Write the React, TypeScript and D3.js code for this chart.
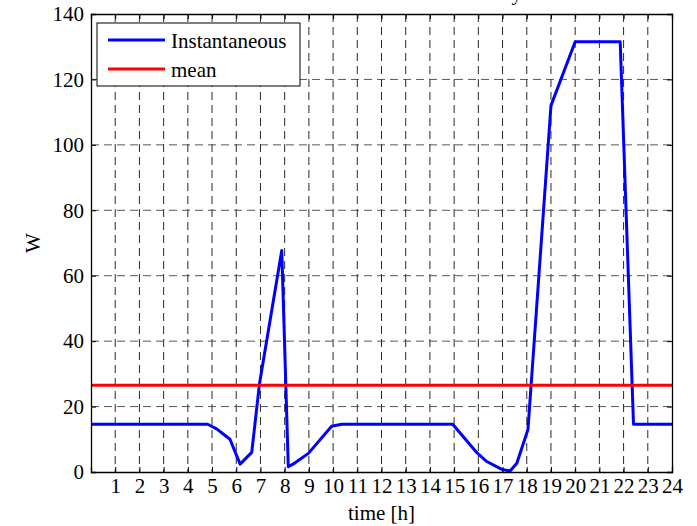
import React, { useRef, useEffect } from 'react';
import * as d3 from 'd3';

// instantaneous power readings (hour, W)
const hours = [0, 4.82, 5.19, 5.74, 6.16, 6.64, 6.96, 7.88, 8.15, 8.43, 8.98, 9.94, 10.36,
  14.94, 15.94, 16.35, 16.97, 17.31, 17.59, 18.05, 19.0, 20.0, 21.86, 22.41, 24];
const watts = [14.6, 14.6, 13.2, 10, 2.4, 6.0, 27, 67.7, 1.6, 2.8, 5.7, 14.0, 14.6,
  14.6, 5.9, 3.2, 0.8, 0.3, 2.7, 13, 112, 131.5, 131.5, 14.6, 14.6];
const meanW = 26.5;

const xTicks = d3.range(1, 25);
const yTicks = [0, 20, 40, 60, 80, 100, 120, 140];
const legendItems = [
  { label: 'Instantaneous', color: '#0000ff' },
  { label: 'mean', color: '#ff0000' },
];

const W = 697;
const H = 526;
const FONT = 'Liberation Serif';
const FS = 21;

const App = () => {
  const ref = useRef<SVGSVGElement | null>(null);

  useEffect(() => {
    const margin = { top: 14, right: 25, bottom: 54, left: 91 };
    const iw = W - margin.left - margin.right;
    const ih = H - margin.top - margin.bottom;

    const svg = d3.select(ref.current);
    svg.selectAll('*').remove();

    const x = d3.scaleLinear().domain([0, 24]).range([0, iw]);
    const y = d3.scaleLinear().domain([0, 140]).range([ih, 0]);

    // title (sits above the picture, only the descender shows)
    svg.append('text')
      .attr('x', 522)
      .attr('y', 0)
      .attr('text-anchor', 'end')
      .style('font-family', FONT)
      .style('font-size', `${FS}px`)
      .text('Electric load of the TV on a Sunday');

    const g = svg.append('g').attr('transform', `translate(${margin.left},${margin.top})`);

    // grid
    g.append('g').selectAll('line')
      .data(xTicks.slice(0, -1))
      .enter().append('line')
      .attr('x1', d => x(d)).attr('x2', d => x(d))
      .attr('y1', 0).attr('y2', ih)
      .attr('stroke', '#111')
      .attr('stroke-width', 0.9)
      .attr('stroke-dasharray', '8,5');

    g.append('g').selectAll('line')
      .data(yTicks.slice(1, -1))
      .enter().append('line')
      .attr('x1', 0).attr('x2', iw)
      .attr('y1', d => y(d)).attr('y2', d => y(d))
      .attr('stroke', '#444')
      .attr('stroke-width', 0.9)
      .attr('stroke-dasharray', '8,5');

    // series
    const line = d3.line<number>()
      .x((_, i) => x(hours[i]))
      .y(d => y(d));

    g.append('path')
      .datum(watts)
      .attr('d', line)
      .attr('fill', 'none')
      .attr('stroke', '#0000ff')
      .attr('stroke-width', 3)
      .attr('stroke-linejoin', 'round');

    g.append('line')
      .attr('x1', x(0)).attr('x2', x(24))
      .attr('y1', y(meanW)).attr('y2', y(meanW))
      .attr('stroke', '#ff0000')
      .attr('stroke-width', 3);

    // axes, ticks inside on all four sides
    const tickLen = 5;
    const axisBottom = d3.axisBottom(x).tickValues(xTicks).tickSize(-tickLen).tickPadding(6).tickFormat(d3.format('d'));
    const axisTop = d3.axisTop(x).tickValues(xTicks).tickSize(-tickLen).tickFormat(() => '');
    const axisLeft = d3.axisLeft(y).tickValues(yTicks).tickSize(-tickLen).tickPadding(7).tickFormat(d3.format('d'));
    const axisRight = d3.axisRight(y).tickValues(yTicks).tickSize(-tickLen).tickFormat(() => '');

    const style = (sel: any) => {
      sel.attr('font-family', null).attr('font-size', null);
      sel.select('.domain').attr('stroke', '#000').attr('stroke-width', 1.3);
      sel.selectAll('.tick line').attr('stroke', '#000').attr('stroke-width', 1);
      sel.selectAll('.tick text')
        .attr('fill', '#000')
        .style('font-family', FONT)
        .style('font-size', `${FS}px`);
    };

    g.append('g').attr('transform', `translate(0,${ih})`).call(axisBottom).call(style);
    g.append('g').call(axisTop).call(style);
    g.append('g').call(axisLeft).call(style);
    g.append('g').attr('transform', `translate(${iw},0)`).call(axisRight).call(style);

    // axis labels
    svg.append('text')
      .attr('x', margin.left + iw / 2)
      .attr('y', 520)
      .attr('text-anchor', 'middle')
      .style('font-family', FONT)
      .style('font-size', `${FS}px`)
      .text('time [h]');

    svg.append('text')
      .attr('transform', `translate(40,${margin.top + ih / 2}) rotate(-90)`)
      .attr('text-anchor', 'middle')
      .style('font-family', FONT)
      .style('font-size', `${FS}px`)
      .text('W');

    // legend
    const lg = svg.append('g').attr('transform', 'translate(97,23)');
    lg.append('rect')
      .attr('width', 203).attr('height', 63)
      .attr('fill', '#fff').attr('stroke', '#000').attr('stroke-width', 1);
    legendItems.forEach((item, i) => {
      const cy = 17 + i * 29;
      lg.append('line')
        .attr('x1', 11).attr('x2', 68)
        .attr('y1', cy).attr('y2', cy)
        .attr('stroke', item.color).attr('stroke-width', 3);
      lg.append('text')
        .attr('x', 74).attr('y', cy + 8)
        .style('font-family', FONT)
        .style('font-size', `${FS}px`)
        .text(item.label);
    });
  }, []);

  return (
    <div style={{ position: 'absolute', left: 0, top: 0, background: '#fff' }}>
      <svg ref={ref} width={W} height={H} style={{ display: 'block', fontFamily: FONT }} />
    </div>
  );
};

export default App;
